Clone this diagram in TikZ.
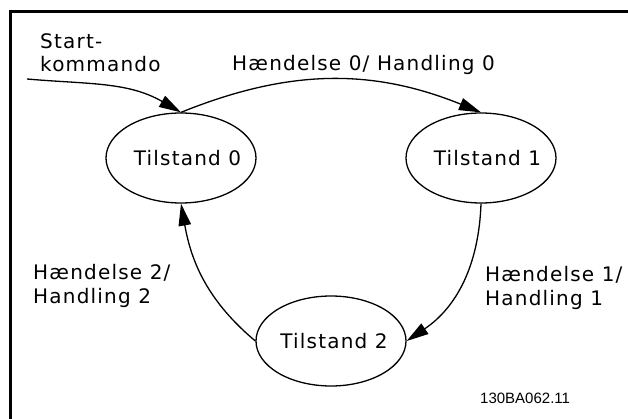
\documentclass[tikz,border=0pt]{standalone}
\usepackage{fontspec}
\setmainfont{DejaVu Sans}[LetterSpace=6]
\newfontfamily\codefont{Liberation Sans}
\usetikzlibrary{shapes.geometric,arrows.meta}
\tikzset{
  state/.style={draw, ellipse, line width=1.3pt, minimum width=150pt, minimum height=90pt, inner sep=0pt},
  trans/.style={line width=1.3pt, -{Triangle[length=22pt,width=12.5pt]}},
  lbl/.style={anchor=base west, align=left, inner sep=0pt, font=\fontsize{20}{23.5}\selectfont},
}
\begin{document}
\begin{tikzpicture}[x=1pt,y=-1pt]
\useasboundingbox (0,0) rectangle (628,419);
\draw[line width=3pt] (10,419) -- (10,12) -- (628,12);
\node[state] (e0) at (181,158) {};
\node[state] (e1) at (481,158) {};
\node[state] (e2) at (331,341) {};
\node[lbl, anchor=base] (t0) at (187.5,166) {Tilstand 0};
\node[lbl, anchor=base] (t1) at (487.5,166) {Tilstand 1};
\node[lbl, anchor=base] (t2) at (334,348) {Tilstand 2};
\coordinate (s) at (27,79);
\node[lbl] (ls) at (40,72) {Start-\\kommando};
\node[lbl] (l0) at (232,71) {Hændelse 0/ Handling 0};
\node[lbl] (l1) at (485,305) {Hændelse 1/\\Handling 1};
\node[lbl] (l2) at (33,303) {Hændelse 2/\\Handling 2};
\node[anchor=base west, inner sep=0pt, font=\codefont\fontsize{15}{18}\selectfont] (code) at (480,403) {130BA062.11};
\draw[trans] (s) to[out=-5,in=150] (e0.north);
\draw[trans] (e0.north) to[out=22,in=158] (e1.north);
\draw[trans] (e1.south) to[out=-92,in=34] (e2.east);
\draw[trans] (e2.west) to[out=140,in=-80] (e0.south);
\end{tikzpicture}
\end{document}
